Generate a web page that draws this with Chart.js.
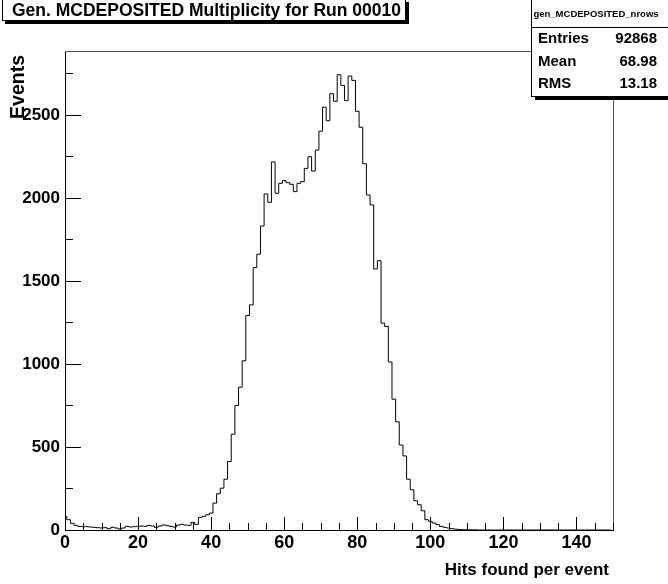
<!DOCTYPE html>
<html>
<head>
<meta charset="utf-8">
<script src="https://cdn.jsdelivr.net/npm/chart.js@4.4.1/dist/chart.umd.min.js"></script>
<style>
  html, body { margin: 0; padding: 0; background: #fff; }
  #wrap { width: 668px; height: 584px; }
</style>
</head>
<body>
<div id="wrap"><canvas id="myChart" width="668" height="584"></canvas></div>
<script>
// histogram contents, one value per unit bin (bin i centred on i)
const binCounts = [
  82, 62, 40, 28, 22, 20, 20, 18, 16, 14,
  12, 14, 8, 16, 12, 6, 12, 22, 18, 20,
  22, 24, 22, 28, 24, 16, 24, 30, 26, 22,
  18, 30, 34, 30, 28, 46, 34, 76, 82, 92,
  102, 162, 218, 252, 306, 412, 577, 750, 860, 1019,
  1292, 1356, 1580, 1661, 1831, 2024, 1974, 2217, 2028, 2088,
  2104, 2092, 2082, 2038, 2088, 2098, 2178, 2248, 2162, 2288,
  2402, 2547, 2465, 2628, 2582, 2742, 2678, 2586, 2734, 2708,
  2522, 2426, 2206, 2018, 1958, 1572, 1622, 1246, 1226, 1012,
  788, 652, 512, 446, 306, 242, 176, 152, 116, 62,
  52, 42, 32, 22, 16, 12, 8, 5, 3, 2,
  2, 1, 1, 0, 0, 0, 0, 0, 0, 0,
  0, 0, 0, 0, 0, 0, 0, 0, 0, 0,
  0, 0, 0, 0, 0, 0, 0, 0, 0, 0,
  0, 0, 0, 0, 0, 0, 0, 0, 0, 0
];
const xRange = [0, 150];
const yMax = 2885;
const xTickValues = [0, 20, 40, 60, 80, 100, 120, 140];
const yTickValues = [0, 500, 1000, 1500, 2000, 2500];
const chartTitle = "Gen. MCDEPOSITED Multiplicity for Run 00010";
const xTitle = "Hits found per event";
const yTitle = "Events";
const statsName = "gen_MCDEPOSITED_nrows";
const statsLabels = ["Entries", "Mean", "RMS"];
const statsValues = ["92868", "68.98", "13.18"];

const FONT = '"Liberation Sans", Arial, sans-serif';

// step outline: each bin starts at its low edge, closed down to zero at the end
var pts = [];
for (var i = 0; i < binCounts.length; i++) {
  pts.push({x: i - 0.5, y: binCounts[i]});
}
pts.push({x: binCounts.length - 0.5, y: 0});

// ROOT style frame, inner ticks, titles and the stats box
const rootDecor = {
  id: 'rootDecor',
  afterDraw(chart) {
    const ctx = chart.ctx;
    const a = chart.chartArea;
    const xs = chart.scales.x, ys = chart.scales.y;
    ctx.save();

    // frame top and right
    ctx.strokeStyle = '#555';
    ctx.lineWidth = 1;
    ctx.beginPath();
    ctx.moveTo(a.left, a.top + 0.5);
    ctx.lineTo(a.right + 0.5, a.top + 0.5);
    ctx.lineTo(a.right + 0.5, a.bottom);
    ctx.stroke();

    // ticks on x axis, pointing up
    ctx.strokeStyle = '#000';
    ctx.beginPath();
    for (var v = xRange[0]; v <= xRange[1]; v += 5) {
      var px = Math.round(xs.getPixelForValue(v)) + 0.5;
      var len = (v % 20 === 0) ? 13 : 7;
      ctx.moveTo(px, a.bottom);
      ctx.lineTo(px, a.bottom - len);
    }
    // ticks on y axis, pointing right
    for (var w = 0; w <= yMax; w += 250) {
      var py = Math.round(ys.getPixelForValue(w)) + 0.5;
      var l2 = (w % 500 === 0) ? 16 : 8;
      ctx.moveTo(a.left, py);
      ctx.lineTo(a.left + l2, py);
    }
    ctx.stroke();

    // axis titles
    ctx.fillStyle = '#000';
    ctx.font = 'bold 17px ' + FONT;
    ctx.textAlign = 'right';
    ctx.textBaseline = 'middle';
    ctx.fillText(xTitle, a.right - 4, 570);
    ctx.save();
    ctx.font = 'bold 19.5px ' + FONT;
    ctx.translate(19, 55);
    ctx.rotate(-Math.PI / 2);
    ctx.fillText(yTitle, 0, 0);
    ctx.restore();

    // title box with shadow
    ctx.fillStyle = '#000';
    ctx.fillRect(5, 2, 404, 22);
    ctx.fillStyle = '#fff';
    ctx.fillRect(2, -1, 404, 22);
    ctx.strokeStyle = '#000';
    ctx.strokeRect(2.5, -1.5, 403, 22);
    ctx.fillStyle = '#000';
    ctx.font = 'bold 17.5px ' + FONT;
    ctx.textAlign = 'left';
    ctx.fillText(chartTitle, 12, 11);

    // stats box with shadow
    ctx.fillStyle = '#000';
    ctx.fillRect(535, 3, 140, 97);
    ctx.fillStyle = '#fff';
    ctx.fillRect(532, -1, 140, 98);
    ctx.strokeRect(531.5, -1.5, 140, 98);
    ctx.beginPath();
    ctx.moveTo(532, 27.5);
    ctx.lineTo(668, 27.5);
    ctx.stroke();
    ctx.fillStyle = '#000';
    ctx.font = 'bold 9.5px ' + FONT;
    ctx.textAlign = 'center';
    ctx.fillText(statsName, 596, 14);
    ctx.font = 'bold 15px ' + FONT;
    var rowY = [39, 62, 84];
    for (var k = 0; k < statsLabels.length; k++) {
      ctx.textAlign = 'left';
      ctx.fillText(statsLabels[k], 538, rowY[k]);
      ctx.textAlign = 'right';
      ctx.fillText(statsValues[k], 657, rowY[k]);
    }
    ctx.restore();
  }
};

function setTicks(list) {
  return function(scale) {
    scale.ticks = list.map(function(v) { return {value: v}; });
  };
}

var ctx = document.getElementById("myChart").getContext('2d');
var myChart = new Chart(ctx, {
  type: 'line',
  data: {
    datasets: [{
      label: "gen_MCDEPOSITED_nrows",
      data: pts,
      stepped: true,
      borderColor: '#000',
      borderWidth: 1,
      pointRadius: 0,
      fill: false
    }]
  },
  options: {
    responsive: false,
    animation: false,
    events: [],
    layout: { padding: { left: 0, right: 55, top: 51, bottom: 0 } },
    plugins: { legend: { display: false }, tooltip: { enabled: false } },
    scales: {
      x: {
        type: 'linear',
        min: xRange[0],
        max: xRange[1],
        afterBuildTicks: setTicks(xTickValues),
        grid: { display: false, drawTicks: false },
        border: { display: true, color: '#000', width: 1 },
        ticks: {
          autoSkip: false,
          maxRotation: 0,
          padding: 2,
          color: '#000',
          font: { family: FONT, size: 18, weight: 'bold' },
          callback: function(v) { return String(v); }
        },
        afterFit: function(s) { s.height = 54; }
      },
      y: {
        min: 0,
        max: yMax,
        afterBuildTicks: setTicks(yTickValues),
        grid: { display: false, drawTicks: false },
        border: { display: true, color: '#000', width: 1 },
        ticks: {
          autoSkip: false,
          padding: 5,
          color: '#000',
          font: { family: FONT, size: 17, weight: 'bold' },
          callback: function(v) { return String(v); }
        },
        afterFit: function(s) { s.width = 65; }
      }
    }
  },
  plugins: [rootDecor]
});
</script>
</body>
</html>
